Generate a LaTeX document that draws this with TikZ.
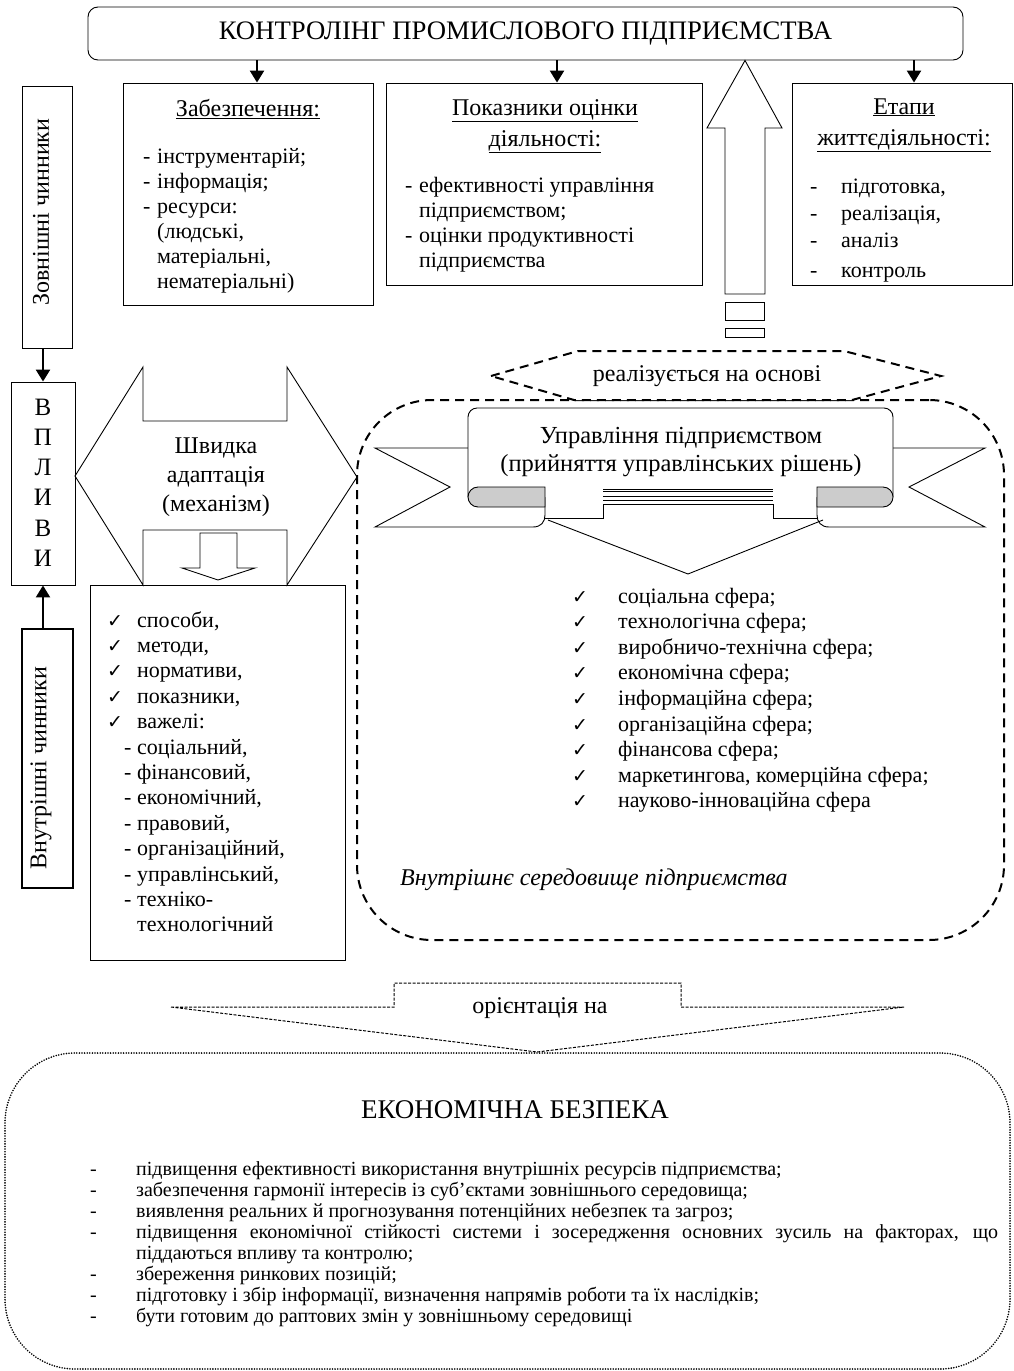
\documentclass[tikz,border=0pt]{standalone}
\usepackage{fontspec}
\setmainfont{Liberation Serif}
\newfontfamily\chkfnt{DejaVu Sans}
\usetikzlibrary{arrows.meta,calc}

\tikzset{
  box/.style={draw, line width=0.9pt, inner sep=0pt},
  thickarr/.style={line width=2.4pt, -{Triangle[length=12pt,width=14pt]}},
  txt/.style={anchor=base west, inner sep=0pt, font=\fontsize{22}{25}\selectfont},
  headtxt/.style={anchor=base, inner sep=0pt, font=\fontsize{24}{28}\selectfont},
  dashbold/.style={line width=2pt, dash pattern=on 9pt off 6pt},
  fineline/.style={line width=0.9pt},
  smalltxt/.style={anchor=base west, inner sep=0pt, font=\fontsize{20}{22}\selectfont},
}

\begin{document}
\begin{tikzpicture}[x=1pt, y=-1pt]
\useasboundingbox (0,0) rectangle (1013,1371);

% Контролінг
\node[box, rounded corners=10pt, minimum width=875pt, minimum height=53pt,
      font=\fontsize{26.7}{30}\selectfont] (title) at (525.5,33.5) {КОНТРОЛІНГ ПРОМИСЛОВОГО ПІДПРИЄМСТВА};
\node[box, minimum width=250pt, minimum height=222pt] (zab) at (248,194) {};
\node[box, minimum width=316pt, minimum height=202pt] (pok) at (544,184) {};
\node[box, minimum width=220pt, minimum height=202pt] (etap) at (902,184) {};
\coordinate (ax1) at (257,0);
\coordinate (ax2) at (557,0);
\coordinate (ax3) at (914,0);
\coordinate (aup) at (745,0);
\draw[thickarr] (title.south -| ax1) -- (zab.north -| ax1);
\draw[thickarr] (title.south -| ax2) -- (pok.north -| ax2);
\draw[thickarr] (title.south -| ax3) -- (etap.north -| ax3);

% Забезпечення
\node[headtxt] (zabh) at (248,116) {\underline{Забезпечення:}};
\foreach \y/\lab [count=\i] in {163/інструментарій;, 188/інформація;, 213/ресурси:}{
  \node[txt] (zabd\i) at (143,\y) {-};
  \node[txt] (zabl\i) at (157,\y) {\lab};
}
\foreach \y/\lab [count=\i] in {238/{(людські,}, 263/{матеріальні,}, 288/{нематеріальні)}}
  \node[txt] (zabc\i) at (157,\y) {\lab};

% Показники
\node[headtxt] (pokh1) at (545,115) {\underline{Показники оцінки}};
\node[headtxt] (pokh2) at (545,146) {\underline{діяльності:}};
\node[txt] (pokd1) at (405,192) {-};
\node[txt] (pokd2) at (405,242) {-};
\foreach \y/\lab [count=\i] in {192/ефективності управління, 217/підприємством;, 242/оцінки продуктивності, 267/підприємства}
  \node[txt] (pokl\i) at (419,\y) {\lab};

% Етапи
\node[headtxt] (etaph1) at (904,114) {\underline{Етапи}};
\node[headtxt] (etaph2) at (904,145) {\underline{життєдіяльності:}};
\foreach \y/\lab [count=\i] in {193/{підготовка,}, 220/{реалізація,}, 247/аналіз, 277/контроль}{
  \node[txt] (etapd\i) at (810,\y) {-};
  \node[txt] (etapl\i) at (841,\y) {\lab};
}

% стрілка вгору
\draw[fineline, fill=white] (725,294) -- (725,128) -- (707,128) -- (title.south -| aup)
  -- (782,128) -- (765,128) -- (765,294) -- cycle;
\draw[fineline] (725,302) rectangle (764,320);
\draw[fineline] (725,328) rectangle (764,337);

% Впливи
\node[box, minimum width=50pt, minimum height=262pt] (zov) at (47,217) {};
\node[rotate=90, inner sep=0pt, font=\fontsize{24}{28}\selectfont] (zovt) at (41,212) {Зовнішні чинники};
\node[box, minimum width=64pt, minimum height=203pt] (vpl) at (43,483.5) {};
\foreach \y/\l [count=\i] in {407/В, 437/П, 467/Л, 497/И, 528/В, 558/И}
  \node[inner sep=0pt, font=\fontsize{25}{25}\selectfont] (vl\i) at (43,\y) {\l};
\node[box, line width=1.8pt, minimum width=51pt, minimum height=259pt] (vnut) at (47.5,758.5) {};
\node[rotate=90, inner sep=0pt, font=\fontsize{24}{28}\selectfont] (vnutt) at (41,768) {Внутрішні чинники};
\draw[thickarr] (vpl.north |- zov.south) -- (vpl.north);
\draw[thickarr] (vpl.south |- vnut.north) -- (vpl.south);

% Швидка адаптація
\draw[fineline] (75,476) -- (143,367) -- (143,421) -- (287,421) -- (287,367) -- (357,477)
  -- (287,585) -- (287,530) -- (143,530) -- (143,585) -- cycle;
\node[align=center, font=\fontsize{24}{29}\selectfont] (adapt) at (216,477) {Швидка\\адаптація\\(механізм)};
\draw[fineline] (200,533) -- (237,533) -- (237,568) -- (255,568) -- (218,580) -- (182,568) -- (200,568) -- cycle;

\node[box, minimum width=255pt, minimum height=375pt] (spos) at (217.5,772.5) {};
\foreach \y/\lab [count=\i] in {627/{способи,}, 652.4/{методи,}, 677.8/{нормативи,}, 703.2/{показники,}, 728.6/важелі:}{
  \node[txt, font=\fontsize{19}{22}\chkfnt\bfseries] (sposc\i) at (107,\y) {✓};
  \node[txt] (sposl\i) at (137,\y) {\lab};
}
\foreach \y/\lab [count=\i] in {754/{соціальний,}, 779.4/{фінансовий,}, 804.8/{економічний,}, 830.2/{правовий,}, 855.6/{організаційний,}, 881/{управлінський,}, 906.4/техніко-}{
  \node[txt] (sposd\i) at (124,\y) {-};
  \node[txt] (sposv\i) at (137,\y) {\lab};
}
\node[txt] (sposv8) at (137,931.8) {технологічний};

% Внутрішнє середовище
\node[draw, dashbold, rounded corners=75pt, minimum width=647pt, minimum height=540pt] (env) at (680.5,670) {};
\draw[dashbold, fill=white] (491,376) -- (578,351) -- (844,351) -- (941,376) -- (852,400) -- (574,400) -- cycle;
\node[font=\fontsize{24}{28}\selectfont] (real) at (707,376) {реалізується на основі};

% стрічка
\draw[fineline] (468,448) -- (375,448) -- (450,487) -- (375,527) -- (533,527)
  .. controls (541,527) and (545,522) .. (545,515) -- (545,487);
\draw[fineline] (893,448) -- (985,448) -- (909,487) -- (985,527) -- (829,527)
  .. controls (821,527) and (817,522) .. (817,515) -- (817,487);
\draw[fineline, fill=white, rounded corners=9pt] (468,497) -- (468,408) -- (893,408) -- (893,497);
\draw[fineline, fill=gray!40] (545,487) -- (478,487) .. controls (472,487) and (468,492) .. (468,497)
  .. controls (468,502) and (472,507) .. (478,507) -- (545,507) -- cycle;
\draw[fineline, fill=gray!40] (817,487) -- (883,487) .. controls (889,487) and (893,492) .. (893,497)
  .. controls (893,502) and (889,507) .. (883,507) -- (817,507) -- cycle;
\draw[fineline] (545,518) -- (603,518) -- (603,504) -- (773,504) -- (773,518) -- (817,518);
\draw[fineline] (603,489) -- (773,489);
\draw[fineline] (603,491.5) -- (773,491.5);
\draw[fineline] (603,496) -- (773,496);
\draw[fineline] (603,500) -- (773,500);
\draw[fineline] (548,520) -- (688,574) -- (823,520);
\node[align=center, font=\fontsize{24.5}{28}\selectfont] (upr) at (681,452) {Управління підприємством\\(прийняття управлінських рішень)};

\foreach \y/\lab [count=\i] in {603/соціальна сфера;, 628.6/технологічна сфера;, 654.2/виробничо-технічна сфера;,
    679.8/економічна сфера;, 705.4/інформаційна сфера;, 731/організаційна сфера;, 756.6/фінансова сфера;,
    782.2/{маркетингова, комерційна сфера;}, 807.8/науково-інноваційна сфера}{
  \node[txt, font=\fontsize{19}{22}\chkfnt] (sfc\i) at (572,\y) {✓};
  \node[txt] (sfl\i) at (618,\y) {\lab};
}
\node[txt, font=\fontsize{24}{28}\selectfont\itshape] (envt) at (400,885) {Внутрішнє середовище підприємства};

% орієнтація на
\draw[line width=1pt, dash pattern=on 3pt off 1.5pt] (171,1007) -- (394,1007) -- (394,983) -- (681,983)
  -- (681,1007) -- (904,1007) -- (537,1052) -- cycle;
\node[font=\fontsize{24}{28}\selectfont] (orient) at (540,1008) {орієнтація на};

% Економічна безпека
\node[draw, line width=1.8pt, line cap=round, dash pattern=on 0pt off 2.6pt, rounded corners=70pt,
      minimum width=1005pt, minimum height=316pt] (sec) at (507.5,1211) {};
\node[font=\fontsize{27}{30}\selectfont] (sect) at (515,1110) {ЕКОНОМІЧНА БЕЗПЕКА};
\foreach \y/\lab [count=\i] in {1175/{підвищення ефективності використання внутрішніх ресурсів підприємства;},
    1196/{забезпечення гармонії інтересів із суб'єктами зовнішнього середовища;},
    1217/{виявлення реальних й прогнозування потенційних небезпек та загроз;},
    1238/{\makebox[862pt][s]{підвищення економічної стійкості системи і зосередження основних зусиль на факторах, що}},
    1280/{збереження ринкових позицій;},
    1301/{підготовку і збір інформації, визначення напрямів роботи та їх наслідків;},
    1322/{бути готовим до раптових змін у зовнішньому середовищі}}{
  \node[smalltxt] (secd\i) at (90,\y) {-};
  \node[smalltxt] (secl\i) at (136,\y) {\lab};
}
\node[smalltxt] (secl8) at (136,1259) {піддаються впливу та контролю;};
\end{tikzpicture}
\end{document}
